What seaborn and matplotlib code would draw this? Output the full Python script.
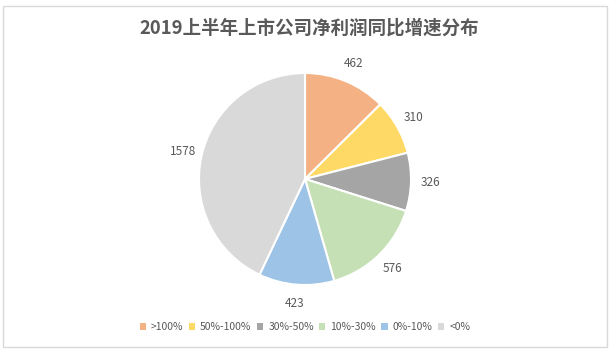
import matplotlib
matplotlib.use("Agg")
import matplotlib.pyplot as plt
import seaborn as sns
from matplotlib.patches import Rectangle, Patch

categories = [">100%", "50%-100%", "30%-50%", "10%-30%", "0%-10%", "<0%"]
counts = [462, 310, 326, 576, 423, 1578]
colors = ["#F4B183", "#FFD966", "#A5A5A5", "#C5E0B4", "#9DC3E6", "#D9D9D9"]
title = "2019上半年上市公司净利润同比增速分布"

sns.set_theme(style="white")
plt.rcParams['font.family'] = ['Noto Sans CJK SC', 'DejaVu Sans']

W, H = 614, 350
fig = plt.figure(figsize=(W / 100, H / 100), dpi=100)
fig.patch.set_facecolor("white")

# outer border
fig.add_artist(Rectangle((3 / W, 3 / H), 604 / W, 341 / H, transform=fig.transFigure,
                         fill=False, edgecolor="#D9D9D9", linewidth=1.0))

cx, cy, R = 305, 179, 106
L = 1.5
S = 2 * L * R
ax = fig.add_axes([(cx - S / 2) / W, (H - cy - S / 2) / H, S / W, S / H])
wedges, texts = ax.pie(counts, colors=colors, startangle=90, counterclock=False,
                       labels=[str(c) for c in counts], labeldistance=1.18,
                       wedgeprops=dict(edgecolor="white", linewidth=1.5),
                       textprops=dict(fontsize=8.5, color="#595959"))
for t in texts:
    t.set_ha("center")
    t.set_va("center")
ax.set_xlim(-L, L)
ax.set_ylim(-L, L)
ax.set_aspect("equal")
ax.axis("off")

fig.text(309.5 / W, 1 - 28 / H, title, ha="center", va="center", fontsize=13.3,
         fontweight="bold", color="#595959")

handles = [Patch(facecolor=c, edgecolor="none") for c in colors]
leg = fig.legend(handles, categories, loc="center", bbox_to_anchor=(305 / W, 1 - 327 / H),
                 ncol=6, frameon=False, fontsize=7.5, handlelength=0.6, handleheight=0.6,
                 handletextpad=0.5, columnspacing=0.5, labelcolor="#595959")

fig.savefig("out.png", dpi=100, facecolor="white")
